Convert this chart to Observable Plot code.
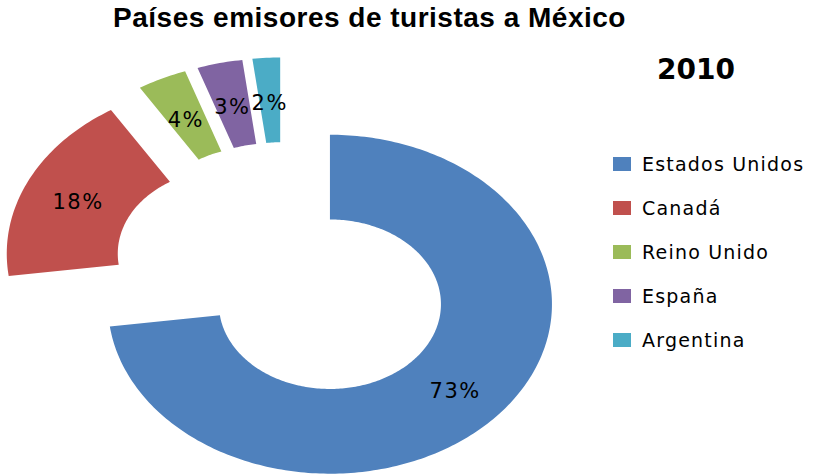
<!DOCTYPE html>
<html>
<head>
<meta charset="utf-8">
<script src="https://cdn.jsdelivr.net/npm/d3@7"></script>
<script src="https://cdn.jsdelivr.net/npm/@observablehq/plot@0.6"></script>
<style>
  html, body { margin: 0; padding: 0; background: #fff; }
  #wrap { position: relative; width: 837px; height: 474px; overflow: hidden; }
  #chart svg { position: absolute; left: 0; top: 0; }
  #title { position: absolute; left: 0; width: 739px; top: 3.6px; text-align: center;
           font: bold 28px/28px "Liberation Sans", Arial, sans-serif; color: #000; white-space: nowrap;
           letter-spacing: 0.5px; }
  #year { position: absolute; left: 596px; width: 200px; top: 55.6px; text-align: center;
          font: bold 28px/28px "DejaVu Sans", sans-serif; color: #000; }
  .lg { position: absolute; left: 613px; height: 19px; white-space: nowrap;
        font: 19px/19px "DejaVu Sans", sans-serif; color: #000; letter-spacing: 1.2px; }
  .lg .sw { position: absolute; left: 0; top: 2px; width: 18px; height: 14px; }
  .lg .tx { position: absolute; left: 29px; top: 0; }
  g[aria-label="text"] text { letter-spacing: 1.5px; }
</style>
</head>
<body>
<div id="wrap">
  <div id="chart"></div>
  <div id="title"></div>
  <div id="year"></div>
  <div id="legend"></div>
</div>
<script>
// ---- data ----
const countries = ["Estados Unidos", "Canadá", "Reino Unido", "España", "Argentina"];
const shares = [72.9, 18.2, 3.6, 3.3, 2.0];
const colors = ["#4F81BD", "#C0504D", "#9BBB59", "#8064A2", "#4BACC6"];
const chartTitle = "Países emisores de turistas a México";
const yearLabel = "2010";

// ---- geometry (unit donut, scales map it to the picture) ----
const innerRatio = 0.5;
const explode = 0.275;
const total = d3.sum(shares);
const pie = d3.pie().sort(null).startAngle(0).endAngle(2 * Math.PI)(shares);

const polys = [];
const labels = [];
pie.forEach((p, i) => {
  const name = countries[i];
  const a0 = p.startAngle, a1 = p.endAngle, am = (a0 + a1) / 2;
  const ox = explode * Math.sin(am), oy = explode * Math.cos(am);
  const n = Math.max(8, Math.ceil((a1 - a0) / (2 * Math.PI) * 360));
  for (let k = 0; k <= n; k++) {
    const a = a0 + (a1 - a0) * k / n;
    polys.push({name, x: ox + Math.sin(a), y: oy + Math.cos(a)});
  }
  for (let k = n; k >= 0; k--) {
    const a = a0 + (a1 - a0) * k / n;
    polys.push({name, x: ox + innerRatio * Math.sin(a), y: oy + innerRatio * Math.cos(a)});
  }
  const rm = (1 + innerRatio) / 2;
  labels.push({name, x: ox + rm * Math.sin(am), y: oy + rm * Math.cos(am),
               text: Math.round(shares[i] / total * 100) + "%"});
});

const chart = Plot.plot({
  width: 837,
  height: 474,
  margin: 0,
  x: {domain: [-1.277, 2.493], axis: null},
  y: {domain: [-1.186, 1.611], axis: null},
  color: {domain: countries, range: colors},
  marks: [
    Plot.line(polys, {x: "x", y: "y", z: "name", fill: "name", stroke: "none", curve: "linear"}),
    Plot.text(labels, {x: "x", y: "y", text: "text", fill: "#000", dy: 3,
                       fontSize: 21, fontFamily: "DejaVu Sans"})
  ]
});
document.getElementById("chart").appendChild(chart);
document.getElementById("title").textContent = chartTitle;
document.getElementById("year").textContent = yearLabel;

const legend = document.getElementById("legend");
countries.forEach((c, i) => {
  const row = document.createElement("div");
  row.className = "lg";
  row.style.top = (154.6 + i * 44.2) + "px";
  const sw = document.createElement("span");
  sw.className = "sw";
  sw.style.background = colors[i];
  const tx = document.createElement("span");
  tx.className = "tx";
  tx.textContent = c;
  row.appendChild(sw);
  row.appendChild(tx);
  legend.appendChild(row);
});
</script>
</body>
</html>
